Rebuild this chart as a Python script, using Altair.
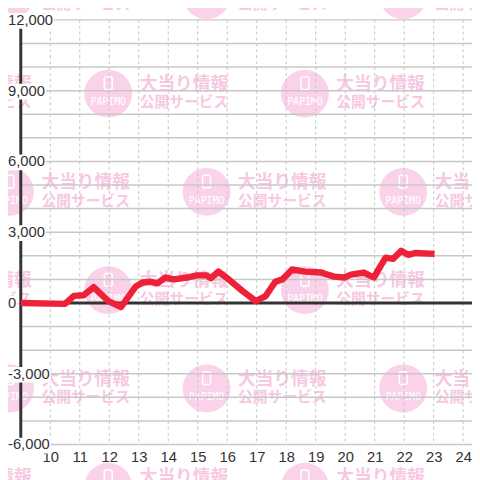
import altair as alt
import pandas as pd

# ---- data ----
hours = [9.0, 10.5, 10.8, 11.13, 11.47, 11.97, 12.4, 12.9, 13.13, 13.4, 13.63, 13.9,
         14.2, 14.63, 14.97, 15.3, 15.45, 15.7, 15.97, 16.53, 16.97, 17.3, 17.63, 17.87,
         18.2, 18.63, 19.2, 19.4, 19.63, 19.97, 20.2, 20.63, 20.97, 21.37, 21.63, 21.9,
         22.13, 22.4, 23.03]
values = [0, -40, 300, 330, 670, 80, -170, 700, 870, 900, 830, 1080,
          1000, 1080, 1170, 1170, 1050, 1330, 1080, 500, 80, 290, 900, 1000,
          1420, 1330, 1290, 1200, 1120, 1080, 1200, 1290, 1080, 1920, 1870, 2210,
          2040, 2120, 2080]

y_grid = list(range(-6000, 12001, 1000))
y_label_values = [-6000, -3000, 0, 3000, 6000, 9000, 12000]
x_ticks = list(range(10, 25))

wm_line1 = "大当り情報"
wm_line2 = "公開サービス"
wm_logo = "PAPIMO"

# ---- layout ----
W, H = 459, 432
X_DOMAIN = [9.0, 24.3]
Y_DOMAIN = [-6000, 12000]
PX_PER_H = W / (X_DOMAIN[1] - X_DOMAIN[0])
PX_PER_UNIT = H / (Y_DOMAIN[1] - Y_DOMAIN[0])
PLOT_LEFT, PLOT_TOP = 21, 16   # page position of plot origin


def tx(page_x):
    return X_DOMAIN[0] + (page_x - PLOT_LEFT) / PX_PER_H


def ty(page_y):
    return Y_DOMAIN[1] - (page_y - PLOT_TOP) / PX_PER_UNIT


xs = alt.Scale(domain=X_DOMAIN, nice=False, zero=False)
ys = alt.Scale(domain=Y_DOMAIN, nice=False, zero=False)
xaxis = alt.Axis(values=x_ticks, grid=False, domain=False, ticks=False, tickSize=0,
                 labelPadding=12, labelBaseline="middle", labelFontSize=15,
                 labelFont="Liberation Sans", labelColor="#333333", labelFlush=False,
                 labelOverlap=False, format="d", title=None)

# ---- watermark tiles (background decoration) ----
circles, icons, logos, texts1, texts2 = [], [], [], [], []
for j in range(0, 6):
    cy = -9 + 100 * j
    base = 10 if j % 2 == 0 else 110
    for i in range(-1, 3):
        cx = base + 200 * i
        circles.append({"t": tx(cx), "v": ty(cy)})
        icons.append({"t": tx(cx - 4), "t2": tx(cx + 4), "v": ty(cy - 17), "v2": ty(cy - 4)})
        logos.append({"t": tx(cx), "v": ty(cy + 9), "s": wm_logo})
        texts1.append({"t": tx(cx + 77), "v": ty(cy - 9), "s": wm_line1})
        texts2.append({"t": tx(cx + 77), "v": ty(cy + 9), "s": wm_line2})

wm_circle = alt.Chart(pd.DataFrame(circles)).mark_circle(
    size=2376, color="#fad3ea", opacity=1).encode(
    x=alt.X("t:Q", scale=xs, axis=xaxis), y=alt.Y("v:Q", scale=ys, axis=None))
wm_icon = alt.Chart(pd.DataFrame(icons)).mark_rect(
    fill=None, stroke="white", strokeWidth=1.5, cornerRadius=2).encode(
    x=alt.X("t:Q", scale=xs, axis=xaxis), x2="t2:Q",
    y=alt.Y("v:Q", scale=ys, axis=None), y2="v2:Q")
wm_logo_t = alt.Chart(pd.DataFrame(logos)).mark_text(
    font="DejaVu Sans Mono", fontSize=10, color="white",
    baseline="middle", align="center").encode(
    x=alt.X("t:Q", scale=xs, axis=xaxis), y=alt.Y("v:Q", scale=ys, axis=None), text="s:N")
wm_t1 = alt.Chart(pd.DataFrame(texts1)).mark_text(
    font="Noto Sans CJK JP", fontSize=18, fontWeight="bold", color="#f8c8e2",
    baseline="middle", align="center").encode(
    x=alt.X("t:Q", scale=xs, axis=xaxis), y=alt.Y("v:Q", scale=ys, axis=None), text="s:N")
wm_t2 = alt.Chart(pd.DataFrame(texts2)).mark_text(
    font="Noto Sans CJK JP", fontSize=15, fontWeight="bold", color="#f8c8e2",
    baseline="middle", align="center").encode(
    x=alt.X("t:Q", scale=xs, axis=xaxis), y=alt.Y("v:Q", scale=ys, axis=None), text="s:N")

# ---- grid ----
hgrid = alt.Chart(pd.DataFrame({"v": y_grid})).mark_rule(
    color="#c8c8c8", strokeWidth=1.5).encode(y=alt.Y("v:Q", scale=ys, axis=None))
vgrid = alt.Chart(pd.DataFrame({"t": x_ticks})).mark_rule(
    color="#c4c4c4", strokeWidth=1, strokeDash=[3, 3]).encode(
    x=alt.X("t:Q", scale=xs, axis=xaxis))

zero_line = alt.Chart(pd.DataFrame({"v": [0]})).mark_rule(
    color="#333333", strokeWidth=3).encode(y=alt.Y("v:Q", scale=ys, axis=None))
y_line = alt.Chart(pd.DataFrame({"t": [X_DOMAIN[0]]})).mark_rule(
    color="#333333", strokeWidth=3).encode(x=alt.X("t:Q", scale=xs, axis=xaxis))

# ---- series ----
line = alt.Chart(pd.DataFrame({"t": hours, "v": values})).mark_line(
    color="#ee2138", strokeWidth=6.5, strokeJoin="round", strokeCap="butt").encode(
    x=alt.X("t:Q", scale=xs, axis=xaxis), y=alt.Y("v:Q", scale=ys, axis=None))


# ---- y labels with white background ----
def text_width(s):
    return sum(8.34 if c.isdigit() else 4.17 if c == "," else 5.0 for c in s)


lab_rows = []
for v in y_label_values:
    s = f"{v:,}"
    lx = 8
    lab_rows.append({"v": v, "s": s, "t": tx(lx), "b0": tx(lx - 1),
                     "b1": tx(lx + text_width(s) + 1),
                     "y0": v + 7 / PX_PER_UNIT, "y1": v - 9 / PX_PER_UNIT})
lab_df = pd.DataFrame(lab_rows)

lab_box = alt.Chart(lab_df).mark_rect(fill="white").encode(
    x=alt.X("b0:Q", scale=xs, axis=xaxis), x2="b1:Q",
    y=alt.Y("y0:Q", scale=ys, axis=None), y2="y1:Q")
lab_txt = alt.Chart(lab_df).mark_text(
    align="left", baseline="middle", fontSize=15, font="Liberation Sans",
    color="#333333", dy=0).encode(
    x=alt.X("t:Q", scale=xs, axis=xaxis), y=alt.Y("v:Q", scale=ys, axis=None), text="s:N")

chart = alt.layer(
    wm_circle, wm_icon, wm_logo_t, wm_t1, wm_t2,
    hgrid, vgrid, zero_line, y_line, line, lab_box, lab_txt
).properties(
    width=W, height=H,
    autosize=alt.AutoSizeParams(type="none"),
    padding={"left": PLOT_LEFT - 8, "top": PLOT_TOP - 8, "right": 0, "bottom": 32},
    background="white",
).configure_view(stroke=None)

chart.save("out.html", embed_options={"renderer": "svg", "actions": False})
